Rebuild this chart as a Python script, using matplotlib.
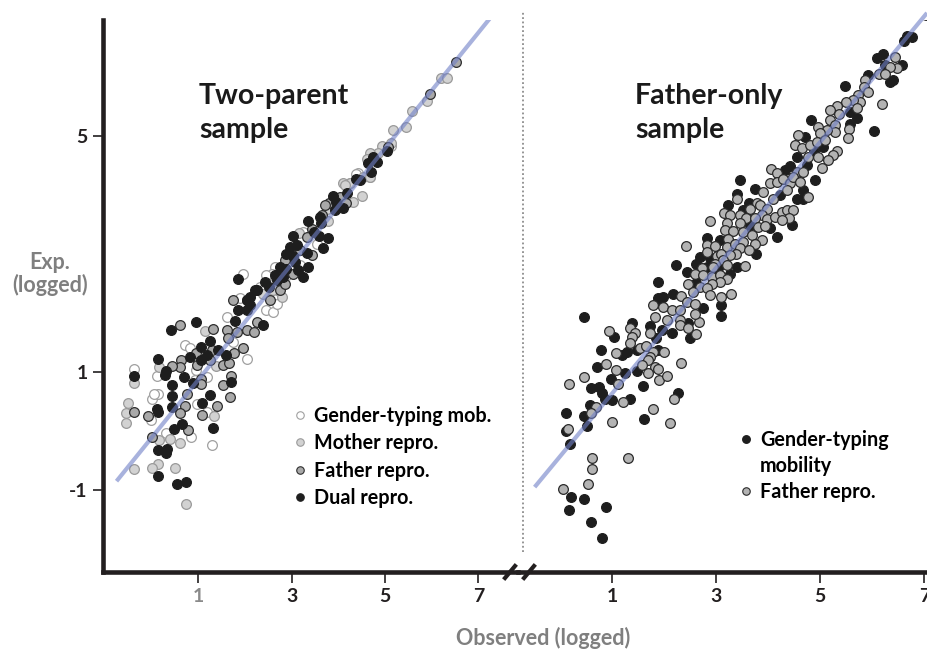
import numpy as np
import matplotlib
matplotlib.use("Agg")
import matplotlib.pyplot as plt
from matplotlib.lines import Line2D

plt.rcParams['font.family'] = ['Lato', 'DejaVu Sans']
plt.rcParams['font.weight'] = 'bold'
plt.rcParams['axes.unicode_minus'] = False

# ---- two-parent sample (observed, expected) ----
tp_gender = [(1.96, 2.67), (2.46, 2.53), (2.57, 2.47), (1.89, 2.25), (1.61, 1.94), (2.46, 2.06),
             (2.61, 2.02), (0.71, 1.46), (0.82, 1.40), (1.75, 1.51), (2.04, 1.23), (1.18, 0.92),
             (0.93, 0.86), (0.96, 1.03), (-0.37, 1.06), (0.98, 0.46), (0.00, 0.55), (0.14, 0.63),
             (-0.02, 0.19), (1.18, 0.33), (0.84, -0.10), (0.32, -0.04), (1.30, -0.23),
             (4.43, 4.37), (4.69, 4.31), (3.25, 3.38), (3.54, 3.18), (3.18, 2.81), (2.64, 2.78),
             (2.57, 2.66), (2.32, 2.45), (2.61, 2.28), (2.68, 2.16), (5.14, 4.83), (4.25, 4.20),
             (4.38, 4.36), (0.11, 0.93), (0.05, 0.63), (2.46, 2.65), (2.91, 2.64), (2.72, 2.38)]
tp_mother = [(1.14, 1.70), (0.16, 1.09), (1.39, 1.10), (-0.37, 0.81), (-0.50, 0.47), (-0.55, 0.31),
             (-0.55, 0.14), (1.33, 0.25), (0.39, -0.14), (0.16, -0.16), (0.61, -0.21), (0.14, -0.56),
             (0.00, -0.63), (-0.38, -0.65), (0.50, -0.62), (0.73, -1.23), (4.93, 4.83), (5.14, 4.88),
             (4.86, 4.71), (4.69, 4.71), (4.62, 4.62), (4.53, 4.31), (4.25, 4.21), (4.11, 4.20),
             (4.50, 3.98), (4.32, 3.89), (3.76, 3.76), (3.78, 3.56), (3.16, 3.35), (2.61, 2.40),
             (2.39, 2.33), (2.79, 2.28), (6.21, 5.98), (6.32, 5.99), (5.91, 5.60), (5.57, 5.42),
             (5.45, 5.15), (5.18, 5.11), (4.14, 4.17), (4.68, 4.31)]
tp_father = [(1.74, 2.22), (2.04, 2.23), (2.25, 1.85), (2.53, 2.23), (0.62, 1.80), (1.31, 1.73),
             (1.61, 1.71), (1.83, 1.68), (2.04, 1.71), (2.19, 1.68), (0.95, 1.32), (1.29, 1.37),
             (1.64, 1.57), (1.76, 1.33), (1.95, 1.40), (0.64, 1.20), (0.61, 1.09), (0.43, 1.10),
             (0.98, 1.12), (1.26, 1.20), (1.52, 1.12), (1.66, 1.15), (1.06, 0.89), (1.71, 0.93),
             (0.76, 0.63), (1.05, 0.80), (1.52, 0.78), (1.69, 0.57), (1.41, 0.42), (0.71, 0.42),
             (0.62, 0.31), (-0.37, 0.32), (-0.07, 0.25), (1.08, 0.27), (0.78, 0.02), (0.00, -0.10),
             (5.07, 4.82), (4.03, 3.97), (3.81, 3.86), (3.71, 3.83), (4.16, 3.87), (3.66, 3.66),
             (3.43, 3.42), (3.32, 3.29), (3.18, 3.07), (3.43, 2.98), (2.86, 2.90), (3.03, 2.67),
             (2.75, 2.40), (2.86, 2.50), (6.52, 6.26), (5.96, 5.71)]
tp_dual = [(1.86, 2.57), (2.25, 2.40), (2.64, 2.64), (1.86, 2.06), (2.04, 2.05), (1.78, 1.87),
           (2.39, 1.80), (0.41, 1.71), (0.95, 1.85), (1.07, 1.43), (1.25, 1.53), (1.18, 1.29),
           (1.43, 1.37), (1.59, 1.29), (0.13, 1.22), (0.82, 1.25), (0.32, 1.01), (0.28, 0.95),
           (1.05, 1.20), (0.69, 0.92), (-0.37, 0.93), (0.43, 0.78), (0.43, 0.59), (0.89, 0.81),
           (1.25, 0.61), (1.71, 0.84), (1.09, 0.47), (0.43, 0.41), (0.11, 0.38), (0.14, 0.33),
           (1.31, 0.06), (0.66, 0.12), (0.48, 0.03), (0.14, -0.32), (0.33, -0.31), (0.31, -0.38),
           (0.13, -0.77), (0.54, -0.89), (0.73, -0.86), (5.04, 4.75), (4.75, 4.65), (4.82, 4.56),
           (4.64, 4.54), (4.38, 4.27), (4.46, 4.25), (4.71, 4.39), (4.18, 4.03), (3.88, 3.98),
           (3.96, 3.89), (4.11, 3.79), (3.93, 3.75), (3.61, 3.63), (3.36, 3.56), (3.64, 3.53),
           (3.48, 3.38), (3.02, 3.31), (3.59, 3.31), (3.78, 3.28), (3.68, 3.11), (3.11, 3.15),
           (2.96, 3.12), (3.32, 3.02), (3.03, 2.97), (2.89, 3.01), (3.07, 2.87), (3.36, 2.78),
           (3.14, 2.73), (3.24, 2.62), (2.89, 2.74), (2.75, 2.78), (2.82, 2.62), (2.68, 2.56),
           (2.43, 2.53), (2.52, 2.45), (2.21, 2.39), (2.11, 2.28), (2.05, 2.22), (2.11, 2.14)]
tp_fit = [(-0.75, -0.85), (7.24, 6.99)]

# ---- father-only sample ----
fo_gender = [(0.46, 1.93), (1.03, 1.59), (1.39, 1.84), (0.78, 1.38), (1.18, 1.29), (1.29, 1.34),
             (1.47, 1.37), (1.88, 1.38), (0.70, 1.08), (1.24, 0.99), (1.47, 1.01), (0.98, 0.88),
             (0.60, 0.73), (0.75, 0.74), (0.80, 0.65), (0.86, 0.55), (0.99, 0.53), (1.34, 0.55),
             (1.60, 0.76), (2.27, 0.65), (1.62, 0.21), (0.57, 0.45), (0.11, 0.30), (0.46, 0.25),
             (0.12, 0.00), (0.51, 0.08), (0.19, -0.22), (0.20, -1.11), (0.46, -1.15), (0.17, -1.34),
             (0.89, -1.29), (0.60, -1.55), (0.80, -1.81), (1.92, 2.22), (2.17, 2.32), (2.75, 2.08),
             (1.73, 1.78), (2.46, 1.83), (1.95, 1.72), (2.14, 1.66), (2.49, 1.57), (1.85, 1.57),
             (3.10, 2.13), (3.10, 1.95), (3.46, 4.25), (4.32, 4.42), (4.42, 4.49), (4.55, 4.65),
             (3.74, 4.11), (4.22, 4.00), (4.55, 3.94), (3.40, 4.02), (3.23, 3.83), (3.62, 3.86),
             (3.51, 3.75), (4.45, 3.49), (3.65, 3.49), (4.03, 3.44), (4.16, 3.29), (2.82, 3.27),
             (3.07, 3.24), (3.76, 3.01), (2.69, 2.95), (2.88, 2.93), (2.22, 2.81), (2.61, 2.83),
             (2.82, 2.79), (3.04, 2.76), (3.39, 2.79), (2.43, 2.70), (3.26, 2.67), (1.88, 2.53),
             (2.62, 2.51), (1.98, 2.27), (1.88, 2.25), (6.76, 6.68), (6.61, 6.61), (6.66, 6.70),
             (6.21, 6.40), (6.08, 6.32), (6.57, 6.20), (6.24, 6.20), (6.40, 5.95), (6.34, 5.92),
             (5.92, 6.03), (5.47, 5.85), (5.57, 5.41), (5.70, 5.30), (5.57, 5.21), (4.83, 5.27),
             (6.03, 5.08), (4.71, 4.99), (5.06, 4.82), (4.87, 4.73), (4.74, 4.51), (4.67, 4.08),
             (4.67, 3.94), (4.90, 4.25)]
fo_father = [(0.94, 1.70), (1.35, 1.74), (1.44, 1.67), (1.39, 1.60), (1.35, 1.50), (1.07, 1.33),
             (1.53, 1.40), (1.65, 1.44), (1.79, 1.34), (1.99, 1.34), (1.73, 1.26), (1.69, 1.20),
             (1.57, 1.12), (1.82, 1.09), (1.88, 1.06), (1.69, 0.99), (0.89, 1.14), (1.07, 1.03),
             (1.12, 0.80), (0.46, 0.91), (0.17, 0.80), (1.20, 0.50), (1.90, 0.86), (2.05, 0.93),
             (2.32, 1.16), (2.19, 0.54), (1.78, 0.37), (2.11, 0.13), (0.69, 0.41), (0.60, 0.31),
             (0.99, 0.16), (0.15, 0.03), (0.62, -0.45), (1.31, -0.46), (0.62, -0.64), (0.53, -0.89),
             (0.06, -0.99), (2.33, 2.29), (1.79, 2.14), (1.98, 2.10), (2.14, 2.06), (2.30, 2.05),
             (2.43, 2.19), (2.59, 2.16), (1.82, 1.94), (2.06, 1.88), (2.30, 1.88), (2.67, 1.85),
             (2.59, 1.99), (1.73, 1.66), (2.30, 1.80), (2.46, 1.74), (2.61, 1.64),
             (4.05, 4.45), (4.16, 4.37), (4.55, 4.40), (4.51, 4.85), (3.90, 4.06), (4.03, 4.20),
             (4.16, 4.23), (4.29, 4.27), (4.42, 4.20), (4.48, 4.31), (4.35, 4.08), (4.10, 3.94),
             (3.40, 3.94), (3.78, 3.86), (3.65, 3.77), (3.84, 3.83), (3.97, 3.77), (3.87, 3.66),
             (3.15, 3.70), (3.26, 3.66), (3.46, 3.66), (3.58, 3.62), (3.74, 3.62), (3.97, 3.60),
             (4.13, 3.63), (4.26, 3.72), (4.35, 3.75), (4.48, 3.75), (4.40, 3.62), (4.26, 3.58),
             (2.88, 3.56), (3.20, 3.53), (3.46, 3.52), (3.81, 3.46), (3.94, 3.47), (3.17, 3.41),
             (3.33, 3.40), (3.52, 3.38), (3.68, 3.32), (3.87, 3.24), (3.74, 3.18), (2.83, 3.15),
             (2.98, 3.14), (3.23, 3.25), (3.20, 3.12), (3.36, 3.18), (3.52, 3.21), (3.46, 3.10),
             (3.62, 3.07), (3.38, 3.01), (3.26, 2.98), (2.42, 3.14), (2.82, 3.04), (3.01, 2.97),
             (3.10, 3.01), (3.13, 2.90), (2.98, 2.84), (2.72, 2.76), (2.94, 2.79), (3.20, 2.81),
             (3.55, 2.80), (2.59, 2.67), (2.75, 2.64), (2.91, 2.62), (3.07, 2.64), (3.20, 2.57),
             (3.07, 2.53), (2.91, 2.49), (2.46, 2.49), (2.69, 2.45), (2.82, 2.42), (2.56, 2.36),
             (2.88, 2.31), (3.10, 2.28), (3.29, 2.33), (7.04, 7.05), (6.44, 6.34), (6.47, 6.15),
             (6.34, 6.18), (6.12, 6.06), (6.24, 6.06), (5.86, 5.95), (5.83, 5.84), (5.92, 5.75),
             (6.18, 5.54), (5.73, 5.69), (5.76, 5.58), (5.63, 5.61), (5.50, 5.58), (5.33, 5.51),
             (5.19, 5.44), (5.35, 5.38), (5.70, 5.47), (4.96, 5.16), (5.19, 5.27), (5.28, 5.19),
             (5.28, 5.07), (5.12, 5.10), (4.99, 5.05), (5.56, 5.12), (5.54, 4.97), (4.58, 5.02),
             (4.64, 4.80), (4.80, 4.85), (4.93, 4.90), (5.09, 4.93), (4.96, 4.65), (4.77, 4.65),
             (5.33, 4.75), (5.25, 4.68), (5.15, 4.59), (5.03, 4.46), (4.67, 4.40), (4.61, 4.23),
             (4.77, 3.97)]
fo_fit = [(-0.49, -0.95), (7.05, 7.09)]

x_ticks = [1, 3, 5, 7]
y_ticks = [-1, 1, 5]

AX = '#231f20'
GRAY_TXT = '#7f7f7f'
W, H = 927, 650


def fx(px):
    return px / W


def fy(py):
    return 1 - py / H


fig = plt.figure(figsize=(9.27, 6.5), dpi=100)
ax1 = fig.add_axes([fx(103), fy(572), fx(518) - fx(103), fy(20) - fy(572)])
ax2 = fig.add_axes([fx(518), fy(572), 1 - fx(518), fy(20) - fy(572)])

ax1.set_xlim(-1.04, 7.85)
ax2.set_xlim(-0.81, 7.05)
for ax in (ax1, ax2):
    ax.set_ylim(-2.39, 6.97)
    ax.set_facecolor('none')
    for s in ('top', 'right'):
        ax.spines[s].set_visible(False)
    ax.spines['bottom'].set_linewidth(3.3)
    ax.spines['bottom'].set_color(AX)
    ax.set_xticks(x_ticks)
    ax.tick_params(axis='x', direction='out', length=8, width=1.2, color=AX,
                   labelsize=14, pad=3.5, labelcolor=AX)
ax1.spines['left'].set_linewidth(3.3)
ax1.spines['left'].set_color(AX)
ax1.set_yticks(y_ticks)
ax1.tick_params(axis='y', direction='out', length=7, width=1.2, color=AX,
                labelsize=14, pad=4, labelcolor=AX)
ax1.get_xticklabels()[0].set_color('#8a8a8a')
ax2.spines['left'].set_visible(False)
ax2.set_yticks([])

ms = 7
styles_tp = [
    (tp_gender, 'white', '#a0a0a0', 'Gender-typing mob.'),
    (tp_mother, '#d2d2d2', '#9a9a9a', 'Mother repro.'),
    (tp_father, '#a9a9a9', '#2e2e2e', 'Father repro.'),
    (tp_dual, '#1e1e1e', '#1e1e1e', 'Dual repro.'),
]
handles = []
for pts, fc, ec, lab in styles_tp:
    xs, ys = np.array(pts).T
    ax1.plot(xs, ys, 'o', ms=ms, mfc=fc, mec=ec, mew=0.9, ls='none', zorder=3)
    handles.append(Line2D([], [], marker='o', ls='none', ms=5.4, mfc=fc, mec=ec, mew=0.8))

fx_, fy_ = np.array(tp_fit).T
ax1.plot(fx_, fy_, color='#6f7fc7', alpha=0.6, lw=3, solid_capstyle='butt', zorder=5)

xs, ys = np.array(fo_gender).T
ax2.plot(xs, ys, 'o', ms=ms, mfc='#1e1e1e', mec='#1e1e1e', mew=0.9, ls='none', zorder=3)
xs, ys = np.array(fo_father).T
ax2.plot(xs, ys, 'o', ms=ms, mfc='#b3b3b3', mec='#2a2a2a', mew=0.9, ls='none', zorder=4)
fx_, fy_ = np.array(fo_fit).T
ax2.plot(fx_, fy_, color='#6f7fc7', alpha=0.6, lw=3, solid_capstyle='butt', zorder=5,
         clip_on=False)

# dotted separator between panels
ax2.plot([-0.71, -0.71], [-2.05, 7.1], color='#8c8c8c', lw=1.3, dashes=(1, 1.4), clip_on=False)

# axis break marks
for c in (510, 529):
    fig.add_artist(Line2D([fx(c - 5), fx(c + 5)], [fy(578), fy(566)], color=AX, lw=3,
                          transform=fig.transFigure))

ax1.legend(handles, [h[3] for h in styles_tp], loc='upper left',
           bbox_to_anchor=(fx(292.5), fy(406)), bbox_transform=fig.transFigure,
           frameon=False, borderpad=0, borderaxespad=0, handlelength=0.75,
           handletextpad=0.32, labelspacing=0.37, fontsize=14.2)

h_b = Line2D([], [], marker='o', ls='none', ms=5.4, mfc='#1e1e1e', mec='#1e1e1e')
h_none = Line2D([], [], marker='o', ls='none', ms=5.4, mfc='none', mec='none')
h_g = Line2D([], [], marker='o', ls='none', ms=5.4, mfc='#b3b3b3', mec='#2a2a2a', mew=0.8)
ax2.legend([h_b, h_none, h_g], ['Gender-typing', 'mobility', 'Father repro.'], loc='upper left',
           bbox_to_anchor=(fx(739), fy(430)), bbox_transform=fig.transFigure,
           frameon=False, borderpad=0, borderaxespad=0, handlelength=0.75,
           handletextpad=0.32, labelspacing=0.3, fontsize=14.2)

# panel titles
tkw = dict(fontsize=20.5, va='baseline', color='#1a1a1a')
fig.text(fx(199), fy(104), 'Two-parent', **tkw)
fig.text(fx(199), fy(138), 'sample', **tkw)
fig.text(fx(635), fy(104), 'Father-only', **tkw)
fig.text(fx(635), fy(138), 'sample', **tkw)

fig.text(fx(50), fy(274), 'Exp.\n(logged)', fontsize=15.5, ha='center', va='center',
         color=GRAY_TXT, linespacing=1.1)
fig.text(fx(543), fy(638), 'Observed (logged)', fontsize=15.5, ha='center', va='center',
         color=GRAY_TXT)

fig.savefig('out.png', dpi=100)
